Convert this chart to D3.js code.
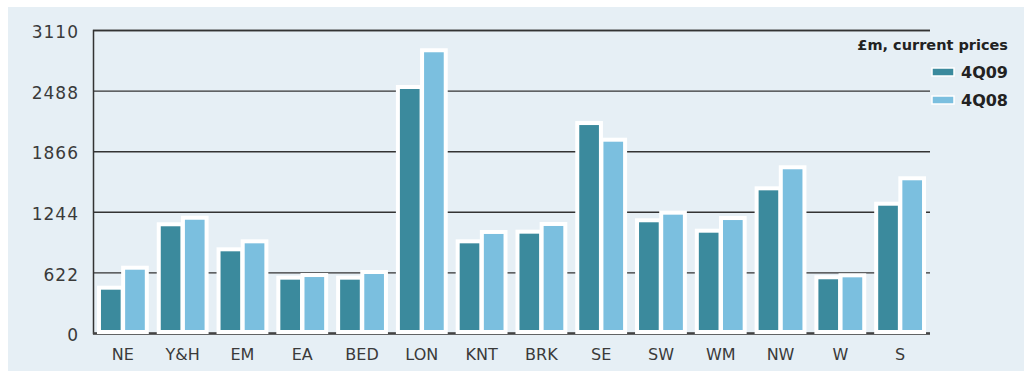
<!DOCTYPE html>
<html><head><meta charset="utf-8">
<script src="https://cdn.jsdelivr.net/npm/d3@7"></script>
<style>
html,body{margin:0;padding:0;background:#fff;}
svg{display:block;}
</style></head>
<body>
<svg id="chart" width="1034" height="381"></svg>
<script>
const categories = ["NE","Y&H","EM","EA","BED","LON","KNT","BRK","SE","SW","WM","NW","W","S"];
const series = ["4Q09","4Q08"];
const values4Q09 = [465,1116,859,568,568,2525,941,1040,2155,1157,1050,1485,572,1327];
const values4Q08 = [670,1183,941,595,626,2902,1037,1119,1984,1235,1180,1701,592,1588];
const yTicks = [0,622,1244,1866,2488,3110];
const legendTitle = "£m, current prices";
const colors = {"4Q09":"#3b8a9d","4Q08":"#7bbfdf"};

(function(){
const svg = d3.select("#chart");
svg.append("rect").attr("x",8).attr("y",7).attr("width",1016).attr("height",364).attr("fill","#e6eff5");

const mLeft = 93, mRight = 930, mTop = 30, mBottom = 333;
const y = d3.scaleLinear().domain([0,3110]).range([mBottom, mTop]);
const x0 = d3.scaleBand().domain(categories).range([mLeft,mRight]).paddingInner(0.2).paddingOuter(0.1);
const x1 = d3.scaleBand().domain(series).range([0, x0.bandwidth()]).paddingInner(0.02);

const font = "'DejaVu Sans', sans-serif";
const yAxis = d3.axisLeft(y).tickValues(yTicks).tickFormat(d3.format("d"))
  .tickSize(-(mRight-mLeft)).tickPadding(14);
const gy = svg.append("g").attr("transform",`translate(${mLeft},0)`).call(yAxis);
gy.select(".domain").attr("stroke","#333").attr("stroke-width",1.5);
gy.selectAll(".tick line").attr("stroke","#333").attr("stroke-width",1.4);
gy.selectAll(".tick text").attr("font-family",font).attr("font-size",17).attr("fill","#3a3a3a")
  .attr("letter-spacing","1px").attr("dy","0.45em");
gy.selectAll(".tick").filter(d=>d===0).select("line").attr("stroke","#444").attr("stroke-width",2.5);

const data = categories.map((c,i)=>({cat:c, vals:[{s:"4Q09",v:values4Q09[i]},{s:"4Q08",v:values4Q08[i]}]}));
const groups = svg.append("g").selectAll("g").data(data).join("g")
  .attr("transform",d=>`translate(${x0(d.cat)},0)`);
groups.selectAll("rect").data(d=>d.vals).join("rect")
  .attr("x",d=>x1(d.s)).attr("width",x1.bandwidth())
  .attr("y",d=>y(d.v)).attr("height",d=>mBottom-1-y(d.v))
  .attr("fill",d=>colors[d.s]).attr("stroke","#fff").attr("stroke-width",4);

const xAxis = d3.axisBottom(x0).tickSize(0).tickPadding(16);
const gx = svg.append("g").attr("transform",`translate(0,${mBottom})`).call(xAxis);
gx.select(".domain").remove();
gx.selectAll(".tick text").attr("font-family",font).attr("font-size",16).attr("fill","#3a3a3a");

svg.append("text").attr("x",1008).attr("y",50).attr("text-anchor","end")
  .attr("font-family",font).attr("font-size",14.5).attr("font-weight","bold").attr("fill","#222")
  .text(legendTitle);
const lg = svg.append("g").selectAll("g").data(series).join("g")
  .attr("transform",(d,i)=>`translate(0,${72 + i*28})`);
lg.append("rect").attr("x",932).attr("y",-4).attr("width",22).attr("height",8)
  .attr("fill",d=>colors[d]).attr("stroke","#fff").attr("stroke-width",1.5);
lg.append("text").attr("x",1008).attr("y",6).attr("text-anchor","end")
  .attr("font-family",font).attr("font-size",16).attr("font-weight","bold").attr("fill","#222")
  .text(d=>d);
})();
</script>
</body></html>
